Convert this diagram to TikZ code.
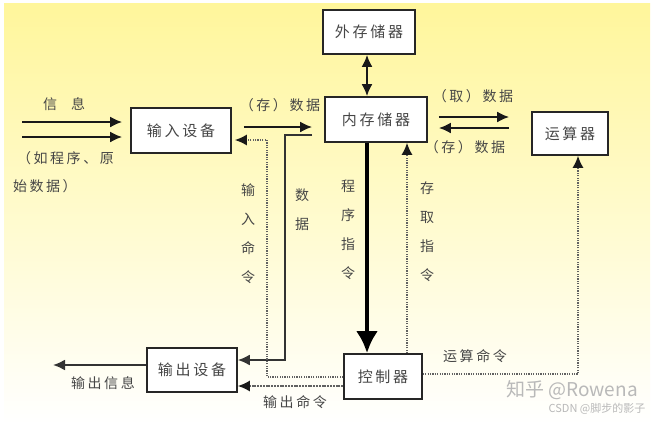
\documentclass[tikz,border=0pt]{standalone}
\usepackage{fontspec}
\newfontfamily\cjk{Noto Sans CJK SC}
\newfontfamily\cjksp[LetterSpace=18]{Noto Sans CJK SC}
\usetikzlibrary{arrows.meta,calc}
\definecolor{bgtop}{RGB}{255,246,155}
\definecolor{bgmid}{RGB}{255,251,200}
\definecolor{txt}{RGB}{70,70,70}
\definecolor{wm}{RGB}{185,185,185}
\begin{document}
\begin{tikzpicture}[x=1pt,y=-1pt,
  box/.style={draw=black!85,line width=1.6pt,fill=white,inner sep=0pt,
    font=\cjksp\fontsize{15}{18}\selectfont,text=txt},
  lbl/.style={font=\cjksp\fontsize{14}{16}\selectfont,text=txt,inner sep=0pt},
  vlbl/.style={inner sep=0pt,text=txt,align=center,font=\cjk\fontsize{14}{29}\selectfont},
  arr/.style={line width=2.2pt,draw=black!90,-{Latex[length=12pt,width=11pt]}},
  dataline/.style={line width=2pt,draw=black!80,-{Latex[length=12pt,width=11pt]}},
  dotarr/.style={line width=1.5pt,draw=black!62,dash pattern=on 1.2pt off 1.2pt,
    -{Latex[length=12pt,width=11pt,color=black!90]}},
  grayarr/.style={line width=1.6pt,draw=black!62,dash pattern=on 2pt off 0.8pt,
    -{Latex[length=12pt,width=11pt,color=black!90]}},
  thickarr/.style={line width=4.5pt,draw=black,-{Latex[length=22pt,width=22pt]}},
  wmark/.style={text=wm,inner sep=0pt}
]
\useasboundingbox (0,0) rectangle (658,424);
\fill[white] (0,0) rectangle (658,424);
\shade[top color=bgtop,middle color=bgmid,bottom color=white] (4,3) rectangle (650,424);

% boxes
\node[box,minimum width=92pt,minimum height=44pt] (wai) at (369,32) {外存储器};
\node[box,minimum width=102pt,minimum height=45pt] (nei) at (376,119.5) {内存储器};
\node[box,minimum width=76pt,minimum height=43pt] (yun) at (570,133.5) {运算器};
\node[box,minimum width=100pt,minimum height=45pt] (shuru) at (181,130.5) {输入设备};
\node[box,minimum width=90pt,minimum height=44pt] (shuchu) at (192,370) {输出设备};
\node[box,minimum width=78pt,minimum height=45pt] (kong) at (383,376.5) {控制器};

% free ends
\coordinate (i1) at (22,122);
\coordinate (i2) at (22,137);
\coordinate (outinfo) at (53,365);

% input information
\draw[arr,shorten >=8pt] (i1) -- (i1 -| shuru.west);
\draw[arr,shorten >=8pt] (i2) -- (i2 -| shuru.west);

% (存)数据 input -> memory
\draw[arr,shorten <=12pt,shorten >=12pt] (shuru.east |- 0,127) -- (nei.west |- 0,127);

% data memory -> output device
\draw[dataline,shorten <=12pt] (nei.west |- 0,135) -| (285,360) -- (shuchu.east |- 0,360);

% input command
\draw[dotarr,shorten >=3pt] (kong.west |- 0,377) -| (267,140) -- (shuru.east |- 0,140);

% output command
\draw[grayarr] (kong.west |- 0,386) -- (shuchu.east |- 0,386);

% output information
\draw[dataline] (shuchu.west |- outinfo) -- (outinfo);

% external <-> internal memory
\draw[line width=2.2pt,draw=black!90,{Latex[length=12pt,width=11pt]}-{Latex[length=12pt,width=11pt]}]
  (wai.south -| 367,0) -- (nei.north -| 367,0);

% program instructions
\draw[thickarr] (nei.south -| 367,0) -- (kong.north -| 367,0);

% access instructions
\draw[dotarr] (kong.north -| 407,0) -- (nei.south -| 407,0);

% memory <-> ALU
\draw[arr,shorten <=11pt,shorten >=22pt] (nei.east |- 0,117) -- (yun.west |- 0,117);
\draw[arr,shorten <=22pt,shorten >=11pt] (yun.west |- 0,128) -- (nei.east |- 0,128);

% arithmetic command
\draw[dotarr] (kong.east |- 0,374) -| (yun.south -| 578,0);

% labels
\node[lbl] (lxx) at (64,104) {信\hspace{14pt}息};
\node[lbl,anchor=west] (lru1) at (17,158) {（如程序、原};
\node[lbl,anchor=west] (lru2) at (13,186) {始数据）};
\node[lbl] (lcun1) at (280,105) {（存）数据};
\node[lbl] (lqu) at (473,96) {（取）数据};
\node[lbl] (lcun2) at (465,147) {（存）数据};
\node[vlbl] (lsrml) at (248,234) {输\\入\\命\\令};
\node[vlbl] (lsj) at (302,210) {数\\据};
\node[vlbl] (lcxzl) at (348,230) {程\\序\\指\\令};
\node[vlbl] (lcqzl) at (427,232) {存\\取\\指\\令};
\node[lbl] (lysml) at (475,356) {运算命令};
\node[lbl] (lscml) at (295,402) {输出命令};
\node[lbl] (lscxx) at (103,383) {输出信息};

% watermarks
\node[wmark,font=\cjk\fontsize{19}{20}\selectfont] (wm1) at (572,390) {知乎 @Rowena};
\node[wmark,font=\cjk\fontsize{11}{12}\selectfont] (wm2) at (597,409) {CSDN @脚步的影子};
\end{tikzpicture}
\end{document}
